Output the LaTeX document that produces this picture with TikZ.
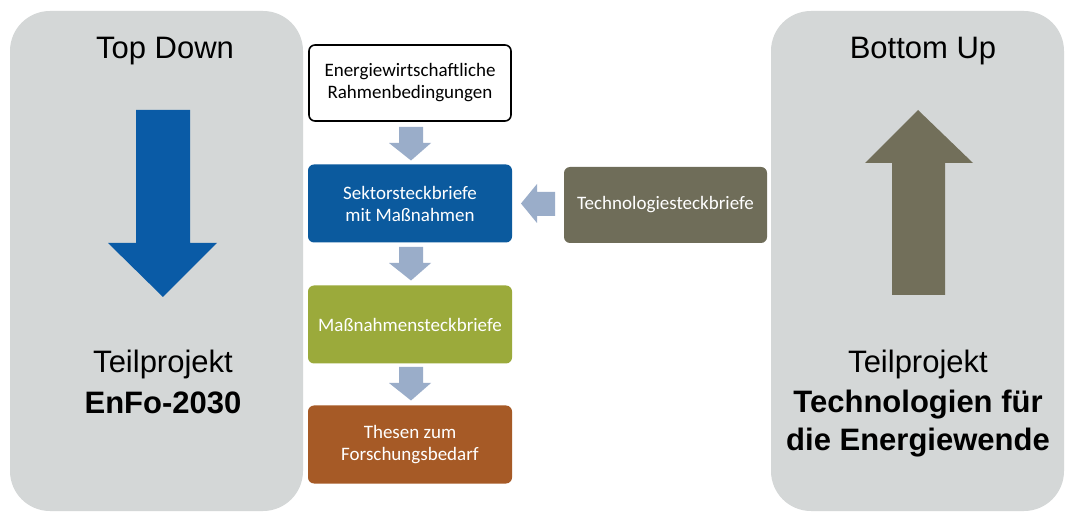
\documentclass[tikz,border=0pt]{standalone}
\usepackage{fontspec}
\setmainfont{Liberation Sans}
\newfontfamily\boxfont{Carlito}
\definecolor{panelgray}{HTML}{D4D7D7}
\definecolor{bigblue}{HTML}{0A5BA6}
\definecolor{boxblue}{HTML}{0B5A9E}
\definecolor{boxgreen}{HTML}{9BAA3B}
\definecolor{boxorange}{HTML}{A65A26}
\definecolor{boxolive}{HTML}{6F6D59}
\definecolor{uparrow}{HTML}{726F5A}
\definecolor{smallarrow}{HTML}{9AADC9}
\begin{document}
\begin{tikzpicture}[x=1pt,y=-1pt,
  panel/.style={fill=panelgray, rounded corners=40pt, minimum width=293pt, minimum height=500pt, inner sep=0pt},
  panellabel/.style={font=\fontsize{31}{39}\selectfont, text=black, inner sep=0pt},
  stepbox/.style={rounded corners=6pt, minimum width=204pt, minimum height=78pt, inner sep=0pt,
     align=center, text=white, font=\boxfont\fontsize{19}{22}\selectfont},
  smallarr/.style={fill=smallarrow}
]
\useasboundingbox (0,0) rectangle (1066,518);
\fill[white] (0,0) rectangle (1066,518);

% panels
\node[panel] (left) at (156.5,261) {};
\node[panel] (right) at (917.5,261) {};

\node[panellabel, anchor=base] (td) at (165,59) {Top Down};
\node[panellabel, anchor=base] (tl1) at (163,373) {Teilprojekt};
\node[panellabel, anchor=base, font=\fontsize{31}{39}\selectfont\bfseries] (tl2) at (163,414) {EnFo-2030};

\node[panellabel, anchor=base] (bu) at (923,59) {Bottom Up};
\node[panellabel, anchor=base] (tr1) at (918,373) {Teilprojekt};
\node[panellabel, anchor=base, font=\fontsize{31}{39}\selectfont\bfseries] (tr2) at (918,413) {Technologien für};
\node[panellabel, anchor=base, font=\fontsize{31}{39}\selectfont\bfseries] (tr3) at (918,451) {die Energiewende};

% big arrows
\fill[bigblue] (136,110) -- (190,110) -- (190,243) -- (217,243) -- (163,297) -- (108,243) -- (136,243) -- cycle;
\fill[uparrow] (918,110) -- (973,163) -- (945,163) -- (945,295) -- (892,295) -- (892,163) -- (865,163) -- cycle;

% middle boxes
\node[stepbox, draw=black, line width=1.6pt, fill=white, text=black, minimum width=202pt, minimum height=76pt] (b1) at (410,83) {Energiewirtschaftliche\\Rahmenbedingungen};
\node[stepbox, fill=boxblue] (b2) at (410,203.5) {Sektorsteckbriefe\\mit Maßnahmen};
\node[stepbox, fill=boxgreen] (b3) at (410,324.5) {Maßnahmensteckbriefe};
\node[stepbox, fill=boxorange] (b4) at (410,444.5) {Thesen zum\\Forschungsbedarf};
\node[stepbox, fill=boxolive, minimum width=203pt, minimum height=76pt] (b5) at (665.5,205) {Technologiesteckbriefe};

% small arrows
\foreach \t in {127,247,367}{
  \fill[smallarr] (399,\t) -- (423,\t) -- (423,\t+16) -- (431,\t+16) -- (411,\t+33.5) -- (389,\t+16) -- (399,\t+16) -- cycle;
}
\fill[smallarr] (521,203.5) -- (537,184) -- (537,192) -- (555,192) -- (555,216) -- (537,216) -- (537,223) -- cycle;
\end{tikzpicture}
\end{document}
